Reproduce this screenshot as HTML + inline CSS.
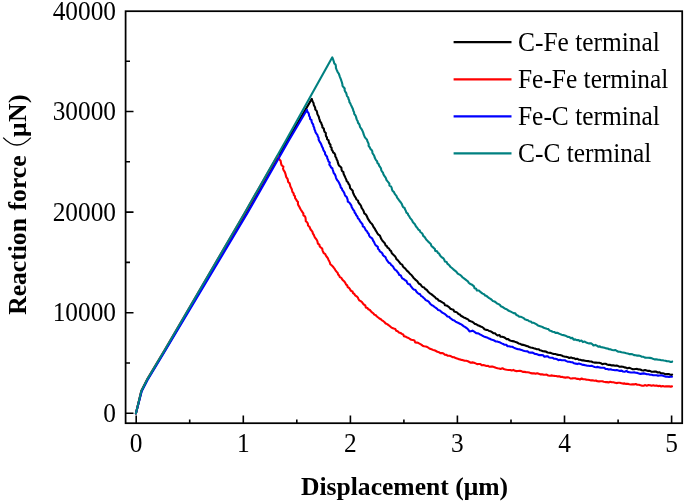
<!DOCTYPE html>
<html><head><meta charset="utf-8">
<style>
html,body{margin:0;padding:0;background:#fff;}
body{width:685px;height:502px;overflow:hidden;}
svg{display:block;}
text{font-family:"Liberation Serif",serif;fill:#000;}
.tk{font-size:25.35px;}
.lg{font-size:25.4px;}
.ax{font-size:25.6px;font-weight:bold;}
</style></head><body>
<svg width="685" height="502" viewBox="0 0 685 502">
<rect width="685" height="502" fill="#fff"/>
<!-- CURVES -->
<g id="curves" fill="none" stroke-width="2.1" stroke-linejoin="round" stroke-linecap="round">
<path stroke="#000" d="M135.9 413.5L141.5 391.0L147.1 380.0L165.2 350.0L246.0 213.0L287.7 140.0L311.8 98.9L312.2 100.4L312.9 101.9L313.6 103.3L313.8 105.0L314.6 106.4L315.2 107.9L315.3 109.5L316.6 110.7L317.1 112.3L317.3 113.9L318.0 115.3L318.8 116.7L319.1 118.3L319.7 119.8L320.0 121.4L321.1 122.7L321.6 124.2L322.3 125.7L322.4 127.4L323.8 128.5L324.0 130.1L324.5 131.7L325.8 132.9L325.8 134.6L326.0 136.2L327.0 137.5L327.1 139.2L328.6 140.3L328.8 142.0L329.4 143.5L330.5 144.7L330.4 146.5L331.6 147.7L331.6 149.5L332.6 150.8L333.1 152.3L334.5 153.4L335.2 154.8L335.3 156.5L336.3 157.9L336.7 159.4L337.5 160.8L337.8 162.4L338.3 164.0L338.9 165.4L340.2 166.6L341.4 167.8L341.5 169.5L342.0 171.0L343.4 172.1L343.6 173.8L344.3 175.3L345.0 176.7L345.6 178.1L346.3 179.6L346.7 181.2L348.0 182.3L348.5 183.8L349.6 185.1L349.9 186.7L350.2 188.3L351.5 189.5L352.7 190.7L352.9 192.4L353.5 193.8L354.2 195.3L355.0 196.7L355.9 198.0L356.5 199.5L358.0 200.5L358.3 202.1L359.2 203.5L360.3 204.7L361.1 206.0L361.5 207.7L362.4 209.0L363.3 210.3L363.9 211.8L364.3 213.4L365.7 214.4L366.6 215.7L367.3 217.2L367.8 218.7L368.8 220.0L369.6 221.4L370.5 222.7L371.8 223.8L372.7 225.1L373.3 226.6L374.2 227.9L375.1 229.2L375.8 230.7L376.7 232.0L377.4 233.4L378.5 234.7L379.9 235.6L380.5 237.1L381.1 238.6L382.0 240.0L382.9 241.3L384.1 242.4L385.0 243.7L385.5 245.3L386.9 246.2L387.6 247.7L389.1 248.6L389.8 250.1L391.1 251.1L391.6 252.8L392.6 254.0L393.7 255.1L394.9 256.2L395.8 257.5L396.4 259.1L397.7 260.1L398.7 261.3L399.7 262.6L400.6 263.9L402.2 264.6L402.8 266.2L403.8 267.5L405.1 268.4L406.1 269.7L407.1 270.9L408.4 271.9L409.4 273.1L410.5 274.3L411.7 275.3L412.7 276.6L413.6 277.9L414.8 279.0L415.9 280.2L417.2 281.1L418.1 282.5L419.1 283.8L420.6 284.5L421.5 285.9L422.6 287.1L424.2 287.6L425.2 289.0L426.6 289.7L427.6 291.0L428.7 292.2L429.9 293.3L431.3 294.1L432.5 295.1L433.7 296.2L435.0 297.1L436.0 298.4L437.6 299.0L438.5 300.4L440.1 301.0L441.5 301.8L442.8 302.6L444.2 303.4L444.9 305.2L446.6 305.5L448.0 306.4L449.3 307.3L450.3 308.7L451.8 309.3L453.4 309.8L454.2 311.5L455.8 311.9L457.3 312.6L458.3 314.0L459.9 314.5L460.9 315.8L462.3 316.5L463.7 317.4L465.2 317.9L466.6 318.8L468.1 319.4L469.2 320.7L470.7 321.3L472.2 321.8L473.6 322.7L474.7 323.9L476.4 324.2L477.6 325.2L479.2 325.8L480.6 326.5L482.1 327.0L483.4 328.0L484.5 329.3L486.0 329.9L487.7 330.0L489.1 331.0L490.7 331.3L492.0 332.2L493.3 333.2L495.0 333.3L496.2 334.5L497.5 335.5L499.5 335.0L500.5 336.7L502.3 336.7L503.8 337.2L505.2 338.0L506.4 339.1L508.2 339.0L509.4 340.3L510.9 340.8L512.5 341.1L514.1 341.4L515.6 342.1L517.1 342.5L518.5 343.4L520.1 343.8L521.5 344.6L523.1 344.9L524.7 345.2L526.1 345.9L527.7 346.2L529.1 347.0L530.6 347.5L532.2 347.8L533.7 348.3L535.3 348.6L536.8 349.2L538.5 349.2L539.8 350.2L541.4 350.6L542.9 351.3L544.5 351.4L546.1 351.6L547.5 352.5L549.1 352.7L550.7 352.9L552.2 353.5L553.7 354.0L555.4 354.0L556.9 354.6L558.4 354.9L560.1 355.0L561.6 355.4L563.1 356.2L564.6 356.6L566.2 356.7L567.8 357.2L569.2 358.0L571.0 357.4L572.5 358.1L574.1 358.2L575.5 359.1L577.2 358.7L578.7 359.6L580.3 359.8L581.8 360.4L583.4 360.4L585.0 360.7L586.6 361.0L588.2 361.1L589.7 361.5L591.4 361.5L592.9 362.2L594.4 362.6L596.0 362.6L597.6 362.7L599.3 362.8L600.8 363.2L602.3 364.2L603.9 363.8L605.6 363.8L607.1 364.5L608.6 364.9L610.3 364.9L611.8 365.4L613.4 365.3L615.0 365.7L616.6 365.6L618.2 366.1L619.7 366.7L621.3 366.6L622.9 366.7L624.4 367.4L626.0 367.6L627.5 368.4L629.2 367.7L630.8 368.4L632.3 369.1L633.9 369.2L635.5 369.0L637.1 368.9L638.7 369.4L640.3 369.5L641.8 370.2L643.4 370.6L645.1 370.1L646.6 370.5L648.2 370.9L649.8 370.8L651.3 371.7L652.9 371.8L654.5 371.6L656.2 371.6L657.7 372.5L659.3 372.2L660.8 373.2L662.4 373.2L664.0 373.6L665.5 374.3L667.1 374.0L668.7 374.1L670.3 374.7L671.8 374.9L672.1 374.5"/>
<path stroke="#f00" d="M135.9 413.5L141.3 390.9L146.9 379.9L164.7 350.0L244.8 213.0L278.0 155.0L278.1 156.7L278.9 158.1L279.4 159.6L280.6 160.8L280.9 162.4L281.2 164.0L281.8 165.5L283.4 166.6L283.0 168.5L283.5 170.0L284.4 171.3L285.1 172.8L285.6 174.3L285.9 175.9L286.4 177.4L287.5 178.7L287.9 180.3L288.1 181.9L289.5 183.1L290.0 184.6L290.3 186.2L291.0 187.6L291.7 189.0L292.1 190.6L292.6 192.2L293.7 193.4L293.8 195.1L295.0 196.3L295.1 198.0L296.1 199.3L296.8 200.8L298.0 202.0L297.9 203.8L298.4 205.3L299.3 206.6L299.9 208.1L300.7 209.5L301.6 210.8L302.4 212.2L303.4 213.5L303.4 215.3L305.0 216.3L305.5 217.8L305.7 219.5L305.8 221.2L307.1 222.3L307.9 223.7L308.0 225.5L309.4 226.6L310.0 228.0L310.6 229.5L311.7 230.7L312.6 232.1L312.9 233.7L313.9 235.0L314.4 236.5L315.2 237.9L316.2 239.2L317.1 240.5L317.6 242.1L317.9 243.7L319.4 244.7L319.7 246.4L320.9 247.5L322.2 248.6L322.5 250.3L323.1 251.8L323.8 253.2L325.3 254.2L325.9 255.7L326.9 257.0L327.8 258.2L328.4 259.7L329.2 261.1L329.9 262.6L330.3 264.2L331.6 265.3L332.8 266.4L333.7 267.7L334.7 268.9L335.5 270.3L336.5 271.6L337.6 272.8L338.1 274.4L339.2 275.5L339.8 277.1L341.4 277.9L342.1 279.3L343.2 280.5L344.4 281.6L345.3 282.9L346.0 284.4L347.2 285.4L347.7 287.1L349.2 288.0L350.1 289.3L350.8 290.8L352.5 291.4L353.0 293.1L354.4 294.0L355.2 295.4L356.6 296.3L357.8 297.4L358.4 299.0L359.3 300.3L360.7 301.2L362.0 302.1L362.9 303.5L364.0 304.7L365.3 305.5L365.8 307.4L367.4 308.0L368.4 309.3L369.9 310.0L370.9 311.3L372.0 312.4L373.4 313.3L374.3 314.6L375.8 315.3L376.9 316.5L378.2 317.5L379.4 318.5L380.9 319.2L382.0 320.4L383.4 321.2L384.6 322.2L385.7 323.5L387.2 324.1L388.5 325.1L389.7 326.0L390.9 327.1L392.2 328.0L393.8 328.6L395.3 329.1L396.2 330.8L397.7 331.3L398.9 332.4L400.5 332.9L401.8 333.9L403.2 334.5L404.0 336.3L405.7 336.6L407.0 337.5L408.6 338.0L409.9 339.0L411.3 339.7L412.9 340.1L414.5 340.5L415.2 342.5L417.0 342.6L418.5 343.1L419.9 343.9L421.3 344.7L422.6 345.7L424.1 346.3L425.8 346.5L427.3 347.0L428.6 347.9L430.0 348.8L431.5 349.2L433.0 349.9L434.5 350.3L436.0 351.0L437.4 351.8L438.9 352.2L440.3 353.1L442.0 353.1L443.5 353.6L444.8 354.8L446.5 354.9L447.8 355.8L449.6 355.7L451.1 356.3L452.5 357.1L454.1 357.2L455.5 358.1L457.0 358.6L458.6 359.1L460.1 359.4L461.6 359.9L463.2 360.2L464.7 360.8L466.4 360.8L467.9 361.2L469.4 362.0L470.8 362.7L472.5 362.4L474.1 362.7L475.6 363.4L477.1 364.1L478.7 364.0L480.4 364.0L481.7 365.3L483.4 365.0L485.0 365.5L486.5 366.0L488.1 365.9L489.6 366.8L491.3 366.6L492.9 366.6L494.4 367.2L495.9 367.8L497.5 368.3L499.1 368.5L500.6 368.9L502.4 368.2L503.8 369.0L505.4 369.5L507.0 369.8L508.5 370.0L510.2 370.0L511.7 370.5L513.4 369.9L514.9 370.8L516.5 371.1L518.1 371.0L519.7 370.8L521.3 371.1L522.8 371.9L524.4 371.9L526.0 372.1L527.6 372.2L529.2 372.5L530.7 373.1L532.3 373.4L533.9 373.2L535.5 373.8L537.2 373.2L538.7 373.8L540.2 374.4L541.9 374.3L543.4 374.6L545.0 374.7L546.7 374.6L548.2 375.5L549.7 375.8L551.4 375.4L553.0 375.7L554.6 375.9L556.2 376.0L557.7 376.4L559.4 376.3L560.9 377.0L562.5 376.9L564.1 377.4L565.6 377.6L567.3 377.3L568.9 377.5L570.4 378.5L572.0 378.4L573.6 378.2L575.2 378.2L576.8 378.9L578.4 378.9L579.9 379.5L581.6 378.5L583.2 379.3L584.8 379.3L586.4 379.6L587.9 379.7L589.5 380.0L591.1 380.4L592.7 380.3L594.3 380.7L595.9 380.5L597.4 381.3L599.0 381.4L600.7 381.2L602.3 381.2L603.8 381.7L605.4 382.1L607.0 382.1L608.6 382.4L610.2 381.8L611.8 382.3L613.4 382.3L615.0 382.7L616.5 383.1L618.2 382.8L619.8 382.8L621.4 383.2L622.9 383.6L624.6 383.4L626.1 383.9L627.7 383.7L629.3 384.3L630.9 384.5L632.5 384.2L634.1 384.4L635.7 384.0L637.3 384.8L638.9 384.8L640.5 385.3L642.0 385.6L643.6 385.7L645.3 385.1L646.8 385.7L648.5 385.1L650.1 385.2L651.6 385.8L653.3 385.3L654.9 385.8L656.5 385.6L658.0 386.1L659.7 385.8L661.2 386.5L662.8 386.1L664.4 386.5L666.0 386.4L667.6 386.3L669.2 386.4L670.8 386.6L672.0 386.4"/>
<path stroke="#00f" d="M135.9 413.5L141.7 391.3L147.4 380.2L165.6 350.0L247.5 213.0L289.1 140.0L307.0 109.8L307.2 111.4L308.3 112.7L308.9 114.2L309.1 115.8L310.0 117.2L310.1 118.9L311.5 120.1L311.6 121.7L312.2 123.2L313.2 124.5L313.4 126.2L314.2 127.6L314.4 129.2L315.1 130.6L315.5 132.2L316.4 133.6L317.4 134.9L317.8 136.5L318.6 137.8L318.6 139.5L319.3 141.0L320.1 142.4L321.0 143.8L321.5 145.2L322.1 146.8L322.9 148.1L323.3 149.7L324.0 151.1L325.0 152.4L325.1 154.1L326.0 155.5L327.1 156.8L327.3 158.4L328.1 159.8L328.4 161.4L329.8 162.5L329.3 164.5L330.3 165.8L331.0 167.3L332.4 168.4L332.8 170.0L333.3 171.5L333.7 173.0L334.8 174.3L335.5 175.7L335.9 177.3L336.4 178.8L337.2 180.2L338.3 181.4L339.1 182.9L339.7 184.3L340.4 185.8L340.7 187.4L341.9 188.6L342.3 190.1L343.4 191.4L344.2 192.8L344.7 194.3L345.3 195.8L346.6 196.9L347.2 198.4L347.7 200.0L347.8 201.7L349.4 202.7L350.3 204.0L351.3 205.3L351.6 206.9L352.4 208.3L353.2 209.7L354.3 210.9L354.6 212.5L355.7 213.8L356.3 215.3L357.4 216.4L357.8 218.1L359.1 219.2L359.7 220.7L360.6 222.0L361.6 223.2L362.6 224.5L362.8 226.3L364.3 227.2L365.0 228.6L365.7 230.1L367.0 231.2L367.6 232.7L368.7 233.8L369.1 235.5L369.9 236.8L371.4 237.8L372.5 239.0L373.0 240.5L374.0 241.8L374.6 243.4L375.3 244.8L376.5 245.9L377.8 246.9L378.0 248.8L379.2 249.8L379.8 251.4L381.3 252.3L382.4 253.4L382.9 255.1L384.1 256.2L385.5 257.1L386.1 258.6L386.8 260.1L387.8 261.4L388.7 262.7L390.3 263.4L391.0 264.9L392.4 265.8L393.4 267.1L394.1 268.6L395.2 269.8L396.5 270.7L397.4 272.0L398.5 273.2L399.1 274.8L400.8 275.4L401.5 277.0L402.3 278.4L403.7 279.2L405.0 280.2L406.5 281.0L407.1 282.6L408.0 284.0L409.9 284.4L410.6 285.9L411.6 287.1L412.6 288.4L413.8 289.5L415.5 290.0L416.3 291.5L417.4 292.7L418.6 293.7L420.2 294.3L420.9 295.9L422.4 296.6L423.5 297.8L424.7 298.8L425.7 300.1L427.2 300.8L428.7 301.6L429.6 303.0L430.7 304.2L431.9 305.2L433.4 305.9L434.6 307.0L435.9 307.9L437.2 308.8L438.2 310.1L439.9 310.5L441.1 311.6L442.3 312.6L443.7 313.4L445.1 314.2L446.3 315.3L447.4 316.4L449.1 316.8L450.2 318.1L451.5 319.0L452.7 320.1L454.3 320.5L455.5 321.6L456.9 322.3L458.5 322.9L459.8 323.8L461.3 324.4L462.6 325.3L463.9 326.3L465.3 327.1L466.6 328.1L468.2 329.6L469.5 331.4L470.9 331.3L472.5 330.6L473.8 331.4L475.2 332.3L476.5 333.3L478.2 333.4L479.6 334.2L481.0 334.9L482.4 335.7L483.8 336.4L485.3 336.9L486.9 337.4L488.3 338.2L489.8 338.8L491.2 339.5L492.8 339.9L494.2 340.5L495.6 341.4L497.3 341.5L498.8 342.1L500.3 342.6L501.7 343.4L503.2 344.0L504.6 344.8L506.3 344.8L507.5 346.2L509.2 346.2L510.7 346.7L512.3 346.8L513.8 347.6L515.2 348.3L516.7 348.9L518.3 349.2L519.9 349.4L521.4 349.9L522.9 350.5L524.4 351.0L526.0 351.3L527.6 351.4L529.0 352.5L530.6 352.6L532.3 352.5L533.8 353.3L535.2 354.0L536.9 354.1L538.3 354.9L539.9 355.1L541.6 355.0L543.1 355.3L544.4 356.7L546.2 356.4L547.8 356.4L549.2 357.5L550.8 357.7L552.4 357.7L553.8 358.6L555.5 358.7L557.0 359.2L558.4 360.1L560.1 359.8L561.7 360.3L563.3 360.3L564.9 360.3L566.4 361.1L567.9 361.7L569.5 361.8L571.1 362.2L572.7 362.3L574.1 363.3L575.7 363.6L577.2 364.1L578.9 363.6L580.5 364.1L582.0 364.6L583.6 364.9L585.2 365.2L586.7 365.6L588.3 365.7L589.9 366.0L591.6 365.8L593.1 366.4L594.6 367.0L596.2 367.2L597.9 366.9L599.4 367.4L601.0 367.7L602.6 367.8L604.2 367.8L605.6 368.9L607.2 369.0L608.8 369.6L610.5 369.2L612.0 369.7L613.6 370.0L615.1 370.3L616.8 370.1L618.3 370.5L619.9 370.9L621.6 370.6L623.0 371.5L624.6 371.8L626.4 370.8L627.8 371.9L629.4 372.2L631.0 372.5L632.6 372.5L634.2 372.4L635.8 372.7L637.4 372.9L638.9 373.4L640.5 373.9L642.1 373.6L643.8 373.4L645.3 373.7L646.9 374.3L648.5 374.2L650.1 374.7L651.7 374.8L653.2 375.3L654.8 375.3L656.4 375.3L658.0 375.6L659.6 375.5L661.3 375.3L662.8 375.6L664.4 376.3L665.9 376.6L667.5 376.7L669.1 377.0L670.7 376.8L672.0 376.8"/>
<path stroke="#008080" d="M135.9 413.5L141.3 390.9L146.9 379.9L164.7 350.0L244.6 213.0L286.2 140.0L332.3 57.3L332.9 58.8L333.4 60.3L333.9 61.8L334.3 63.4L335.5 64.6L335.9 66.2L335.9 67.9L336.5 69.4L337.1 70.8L337.8 72.3L338.8 73.6L339.3 75.2L339.8 76.6L340.4 78.1L341.0 79.6L341.5 81.2L342.0 82.7L342.4 84.2L342.5 85.9L343.6 87.2L344.7 88.5L344.6 90.2L345.2 91.7L346.2 93.0L346.6 94.6L347.0 96.1L348.2 97.4L348.5 99.0L349.2 100.4L349.4 102.1L350.3 103.4L350.9 104.9L351.6 106.3L352.3 107.7L353.0 109.2L353.3 110.8L354.1 112.2L354.2 113.9L355.3 115.2L356.0 116.6L356.3 118.2L356.8 119.7L357.7 121.1L358.0 122.7L359.1 124.0L359.7 125.4L360.0 127.0L361.0 128.4L361.9 129.7L362.6 131.1L363.2 132.6L363.6 134.2L364.2 135.7L364.8 137.1L365.8 138.4L367.0 139.7L367.4 141.2L368.1 142.6L368.7 144.1L368.6 145.9L369.7 147.2L370.3 148.7L371.5 149.9L372.3 151.2L372.4 153.0L373.3 154.3L374.2 155.7L374.6 157.2L375.3 158.7L376.0 160.1L377.1 161.3L377.4 163.0L378.7 164.1L379.1 165.7L380.1 167.0L381.0 168.3L381.2 170.0L381.9 171.4L383.0 172.7L383.4 174.3L384.2 175.6L385.1 176.9L386.0 178.3L386.4 179.9L387.4 181.2L388.4 182.4L389.4 183.7L389.4 185.6L391.0 186.4L391.7 187.9L392.0 189.6L392.7 191.0L394.0 192.1L394.6 193.6L395.6 194.9L396.6 196.1L397.1 197.7L398.1 198.9L399.0 200.2L400.0 201.5L401.0 202.7L401.9 204.1L402.4 205.7L403.1 207.1L404.6 208.0L405.1 209.6L405.9 211.0L406.4 212.6L407.8 213.6L408.3 215.2L409.3 216.4L410.0 217.9L411.1 219.1L412.1 220.3L412.7 221.8L413.7 223.0L414.9 224.2L415.5 225.7L416.5 227.0L417.5 228.2L418.3 229.6L419.8 230.5L420.3 232.0L421.7 233.0L422.7 234.2L423.2 235.9L424.5 236.9L425.4 238.2L426.2 239.6L427.4 240.7L428.4 241.9L429.7 243.0L430.8 244.1L431.3 245.8L432.5 246.9L433.7 247.9L434.9 249.0L435.2 250.9L437.1 251.3L437.8 252.8L439.2 253.7L439.9 255.2L440.9 256.5L442.1 257.5L443.5 258.4L444.3 259.8L444.9 261.5L446.7 262.0L447.3 263.6L448.6 264.6L449.7 265.8L450.6 267.0L451.9 268.0L453.1 269.1L454.3 270.1L455.6 271.1L456.7 272.2L457.7 273.6L459.1 274.4L460.5 275.2L461.7 276.3L462.7 277.5L464.0 278.4L465.3 279.4L466.6 280.4L467.9 281.3L468.7 282.8L469.9 283.8L471.5 284.4L472.8 285.4L474.0 286.4L474.5 288.3L476.2 288.8L476.9 290.5L478.9 290.5L480.0 291.6L481.3 292.6L482.6 293.6L484.1 294.2L485.1 295.5L486.7 296.1L487.9 297.1L489.2 298.1L490.5 298.9L491.8 299.9L492.9 301.1L494.5 301.5L495.9 302.4L497.1 303.5L498.6 304.1L499.9 304.9L500.9 306.3L502.5 306.9L503.8 307.8L505.1 308.7L506.7 309.2L507.9 310.3L509.3 311.0L510.8 311.6L512.2 312.4L513.6 313.1L515.3 313.4L516.3 314.9L517.8 315.4L519.0 316.6L520.7 316.8L522.2 317.4L523.6 318.1L524.8 319.3L526.3 319.9L528.0 320.2L529.2 321.2L530.8 321.6L532.0 322.8L533.8 322.8L535.2 323.6L536.6 324.4L537.9 325.4L539.4 325.9L540.9 326.4L542.4 327.0L543.8 327.7L545.3 328.3L546.8 328.8L548.4 329.1L549.6 330.6L551.1 331.0L552.6 331.7L554.2 332.0L555.6 332.9L557.3 332.8L558.8 333.5L560.2 334.1L561.7 334.8L563.3 335.1L564.8 335.6L566.3 336.1L567.7 336.9L569.4 337.0L570.7 338.1L572.4 337.9L573.6 339.6L575.3 339.4L576.8 340.1L578.5 340.0L579.8 341.1L581.6 340.6L582.9 342.1L584.7 341.5L586.1 342.5L587.6 343.0L589.1 343.4L590.8 343.3L592.3 344.1L593.5 345.5L595.4 344.9L596.8 345.7L598.2 346.6L599.9 346.4L601.3 347.3L603.0 347.4L604.5 347.8L606.0 348.4L607.6 348.5L609.1 349.3L610.7 349.4L612.2 350.0L613.8 350.3L615.5 350.0L616.9 351.0L618.4 351.7L620.0 351.8L621.5 352.3L623.1 352.5L624.7 352.8L626.3 353.2L627.8 353.5L629.3 354.1L631.0 354.1L632.6 354.3L634.0 355.1L635.6 355.3L637.2 355.6L638.8 355.5L640.4 355.9L641.8 356.8L643.5 356.8L644.9 357.6L646.5 357.8L648.2 357.8L649.8 357.9L651.4 358.1L652.9 358.8L654.4 359.4L656.0 359.2L657.6 359.6L659.2 359.7L660.8 360.1L662.4 360.2L663.9 360.5L665.5 360.7L667.0 361.3L668.7 361.2L670.2 361.9L671.8 362.0L672.1 361.5"/>
</g>
<!-- frame -->
<rect x="125.6" y="11.2" width="556.6" height="412" fill="none" stroke="#000" stroke-width="1.75"/>
<g stroke="#000" stroke-width="1.6" fill="none">
<!-- x major -->
<path d="M136.2 423V415.5M243.3 423V415.5M350.4 423V415.5M457.4 423V415.5M564.5 423V415.5M671.6 423V415.5"/>
<!-- x minor -->
<path d="M189.7 423V419.5M296.8 423V419.5M403.9 423V419.5M511 423V419.5M618.1 423V419.5"/>
<!-- y major -->
<path d="M126 413.3H133.5M126 312.7H133.5M126 212.1H133.5M126 111.5H133.5"/>
<!-- y minor -->
<path d="M126 363H130M126 262.4H130M126 161.8H130M126 61.2H130"/>
</g>
<g id="txt" style="filter:grayscale(1)">
<g class="tk" text-anchor="end">
<text transform="translate(116,19.5) scale(1,1.06)">40000</text>
<text transform="translate(116,120) scale(1,1.06)">30000</text>
<text transform="translate(116,220.5) scale(1,1.06)">20000</text>
<text transform="translate(116,321) scale(1,1.06)">10000</text>
<text transform="translate(116,421.8) scale(1,1.06)">0</text>
</g>
<g class="tk" text-anchor="middle">
<text transform="translate(136.2,452) scale(1,1.06)">0</text>
<text transform="translate(243.3,452) scale(1,1.06)">1</text>
<text transform="translate(350.4,452) scale(1,1.06)">2</text>
<text transform="translate(457.4,452) scale(1,1.06)">3</text>
<text transform="translate(564.5,452) scale(1,1.06)">4</text>
<text transform="translate(671.6,452) scale(1,1.06)">5</text>
</g>
<text class="ax" x="404.5" y="495" text-anchor="middle">Displacement (μm)</text>
<text class="ax" transform="translate(26,314.8) rotate(-90)" word-spacing="1.3">Reaction force</text>
<text class="ax" transform="translate(26,137) rotate(-90)" letter-spacing="0.5">μN)</text>
<path d="M3.2 137.6Q17 152.4 30.8 137.6" fill="none" stroke="#000" stroke-width="1.3"/>
</g>
<!-- legend -->
<g stroke-width="2.2" fill="none">
<path d="M453.6 42.2H511.5" stroke="#000"/>
<path d="M453.6 79.4H511.5" stroke="#f00"/>
<path d="M453.6 116.3H511.5" stroke="#00f"/>
<path d="M453.6 153.4H511.5" stroke="#008080"/>
</g>
<g class="lg" style="filter:grayscale(1)">
<text transform="translate(518,51.4) scale(1,1.04)">C-Fe terminal</text>
<text transform="translate(518,88.4) scale(1,1.04)">Fe-Fe terminal</text>
<text transform="translate(518,125.4) scale(1,1.04)">Fe-C terminal</text>
<text transform="translate(518,162.4) scale(1,1.04)">C-C terminal</text>
</g>
</svg>
</body></html>
